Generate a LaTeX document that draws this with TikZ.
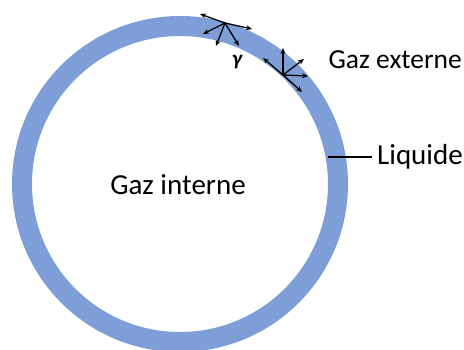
\documentclass[tikz,border=0pt]{standalone}
\usepackage{fontspec}
\setmainfont{Carlito}
\usetikzlibrary{arrows.meta}
\definecolor{ringblue}{RGB}{126,158,216}
\tikzset{
  lbl/.style={font=\fontsize{29}{33}\selectfont, inner sep=0pt, text=black},
  arr/.style={line width=1.3pt, -{Stealth[length=6pt,width=5pt]}},
  lead/.style={line width=1.4pt}
}
\begin{document}
\begin{tikzpicture}[x=1pt,y=-1pt]
\useasboundingbox (0,0) rectangle (464,349);
\begin{scope}
\clip (0,0) rectangle (464,349);
\fill[ringblue, even odd rule] (180,184) circle (168) (180,184) circle (148);
\end{scope}
\node[lbl] (gi) at (178,185) {Gaz interne};
\node[lbl, anchor=east, font=\fontsize{27.5}{31}\selectfont] (ge) at (462,60) {Gaz externe};
\node[lbl, anchor=west, inner xsep=5pt] (liq) at (372,157) {Liquide};
\coordinate (lq) at (328,157);
\draw[lead] (lq) -- (liq.west);
\node[font=\fontsize{21}{24}\selectfont\bfseries\itshape, inner sep=0pt] (g) at (237,62) {γ};
% group 1
\coordinate (o1) at (225,23);
\coordinate (a1) at (200,14);
\coordinate (a2) at (252,29);
\coordinate (a3) at (203,34);
\coordinate (a4) at (216,46);
\coordinate (a5) at (239,46);
\foreach \e in {a1,a2,a3,a4,a5} \draw[arr] (o1) -- (\e);
% group 2
\coordinate (o2) at (283,75);
\coordinate (b1) at (263,58);
\coordinate (b2) at (283,48);
\coordinate (b3) at (304,59);
\coordinate (b4) at (308,76);
\coordinate (b5) at (302,92);
\foreach \e in {b1,b2,b3,b4,b5} \draw[arr] (o2) -- (\e);
\end{tikzpicture}
\end{document}
